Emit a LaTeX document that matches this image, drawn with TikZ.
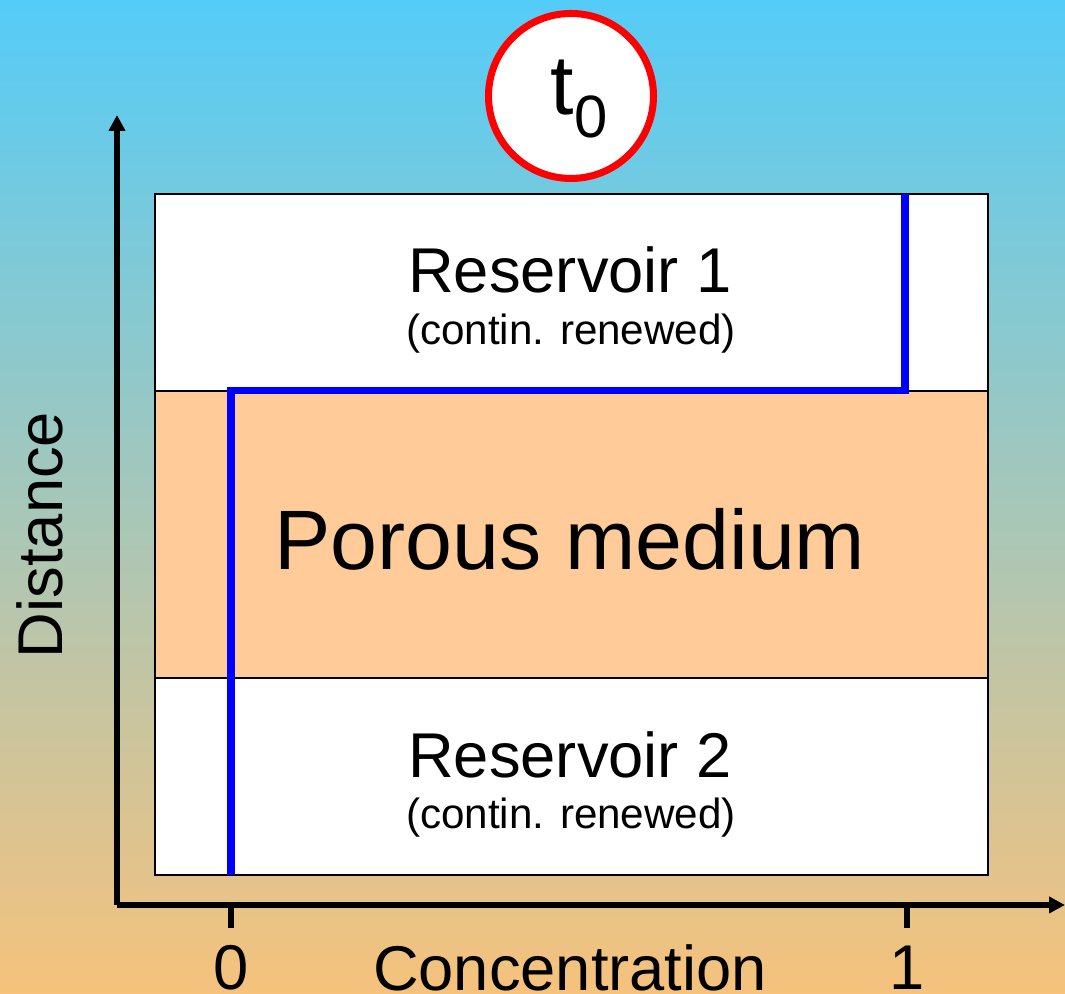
\documentclass[tikz,border=0pt]{standalone}
\usepackage{fontspec}
\setmainfont{Liberation Sans}
\usetikzlibrary{arrows.meta}
\definecolor{skyblue}{RGB}{84,204,248}
\definecolor{midgrey}{RGB}{188,200,204}
\definecolor{sandorange}{RGB}{246,194,124}
\definecolor{peach}{RGB}{255,204,153}
\begin{document}
\begin{tikzpicture}[>={Triangle[length=1.6mm,width=1.6mm]},
    layer/.style={draw, line width=0.4pt, inner sep=0pt, outer sep=0pt, minimum width=8.33cm},
    axis/.style={line width=1.45pt},
    label/.style={font=\fontsize{18}{18}\selectfont},
    note/.style={font=\fontsize{12}{12}\selectfont}]
        % Background
        \useasboundingbox (0,0) rectangle (10.65,9.94);
        \shade[top color=skyblue, middle color=midgrey, bottom color=sandorange] (0,0) rectangle (10.65,9.94);

        % Layers
        \node[layer, fill=white, minimum height=1.97cm] (res1) at (5.715,7.015) {};
        \node[layer, fill=peach, minimum height=2.87cm] (pm) at (5.715,4.595) {};
        \node[layer, fill=white, minimum height=1.97cm] (res2) at (5.715,2.175) {};

        \node[label] (r1) at (5.70,7.24) {Reservoir 1};
        \node[note] (r1n) at (5.71,6.60) {(contin. renewed)};
        \node[font=\fontsize{24}{24}\selectfont] (pmt) at (5.70,4.55) {Porous medium};
        \node[label] (r2) at (5.70,2.39) {Reservoir 2};
        \node[note] (r2n) at (5.71,1.76) {(contin. renewed)};

        % Axes
        \coordinate (o) at (1.17,0.89);
        \coordinate (ytop) at (1.17,8.79);
        \coordinate (xend) at (10.65,0.89);
        \draw[axis, ->] (o) -- (ytop);
        \draw[axis, ->] (o) -- (xend);
        \coordinate (tick0) at (2.31,0.89);
        \coordinate (tick1) at (9.07,0.89);
        \draw[axis] (tick0) -- ++(0,-0.23);
        \draw[axis] (tick1) -- ++(0,-0.23);

        \node[label] (l0) at (2.31,0.26) {0};
        \node[label] (l1) at (9.07,0.26) {1};
        \node[label] (xlab) at (5.70,0.26) {Concentration};
        \node[label, rotate=90] (ylab) at (0.40,4.59) {Distance};

        % Concentration profile
        \coordinate (p0) at (2.31,1.19);
        \coordinate (p1) at (2.31,6.03);
        \coordinate (p2) at (9.05,6.03);
        \coordinate (p3) at (9.05,8.00);
        \draw[blue, line width=2pt] (p0) -- (p1) -- (p2) -- (p3);

        % Time stamp
        \node[draw=red, fill=white, circle, line width=2pt, minimum size=1.65cm, inner sep=0pt] (time) at (5.71,8.98) {};
        \node[font=\fontsize{24}{24}\selectfont] (tlab) at (5.79,8.95) {t\raisebox{-0.27em}{\fontsize{17}{17}\selectfont 0}};
    \end{tikzpicture}
\end{document}
